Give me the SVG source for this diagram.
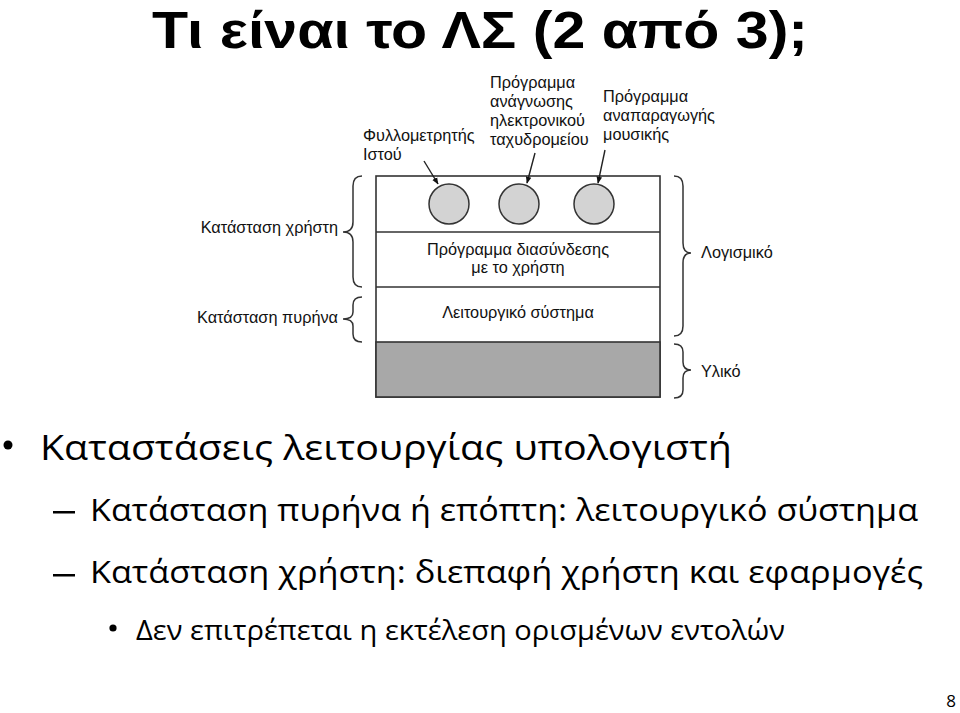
<svg xmlns="http://www.w3.org/2000/svg" width="960" height="713" viewBox="0 0 960 713">
<style>
.slide{font-family:"Open Sans","Noto Sans","DejaVu Sans",sans-serif;fill:#000}
.title{font-family:"Liberation Sans",Arial,sans-serif;font-weight:bold;fill:#000}
.lbl{font-family:"Liberation Sans",Arial,sans-serif;font-size:16.3px;fill:#111}
.box{fill:#fff;stroke:#333;stroke-width:1.6}
.cir{fill:#d3d3d3;stroke:#333;stroke-width:1.5}
.brace{fill:none;stroke:#333;stroke-width:1.5}
.conn{stroke:#222;stroke-width:1.4;fill:none}
</style>
<defs>
<marker id="ah" viewBox="0 0 10 10" refX="9" refY="5" markerWidth="7" markerHeight="7" orient="auto" markerUnits="userSpaceOnUse">
<path d="M0,1 L10,5 L0,9 Z" fill="#111"/>
</marker>
</defs>
<rect width="960" height="713" fill="#fff"/>
<text class="title" x="152" y="48" font-size="52" textLength="656" lengthAdjust="spacingAndGlyphs">Τι είναι το ΛΣ (2 από 3);</text>

<g id="os-diagram">
<g id="layers">
<rect class="box" x="376" y="176" width="284" height="221"/>
<line class="box" x1="376" y1="232" x2="660" y2="232"/>
<line class="box" x1="376" y1="287" x2="660" y2="287"/>
<rect x="376" y="342" width="284" height="55" fill="#a8a8a8" stroke="#333" stroke-width="1.6"/>
</g>
<g id="node-browser"><circle class="cir" cx="449" cy="204" r="20"/></g>
<g id="node-mail"><circle class="cir" cx="519" cy="204" r="20"/></g>
<g id="node-music"><circle class="cir" cx="594" cy="204" r="20"/></g>
<g id="node-ui"><text class="lbl" x="518" y="255" text-anchor="middle">Πρόγραμμα διασύνδεσης</text><text class="lbl" x="518" y="273" text-anchor="middle">με το χρήστη</text></g>
<g id="node-os"><text class="lbl" x="518" y="318" text-anchor="middle">Λειτουργικό σύστημα</text></g>

<g id="label-browser"><text class="lbl" x="363" y="141">Φυλλομετρητής</text><text class="lbl" x="363" y="160">Ιστού</text></g>
<g id="label-mail"><text class="lbl" x="490" y="88">Πρόγραμμα</text><text class="lbl" x="490" y="107">ανάγνωσης</text><text class="lbl" x="490" y="126">ηλεκτρονικού</text><text class="lbl" x="490" y="145">ταχυδρομείου</text></g>
<g id="label-music"><text class="lbl" x="603" y="102">Πρόγραμμα</text><text class="lbl" x="603" y="121">αναπαραγωγής</text><text class="lbl" x="603" y="140">μουσικής</text></g>

<g id="connectors">
<line class="conn" x1="424" y1="161" x2="438" y2="184" marker-end="url(#ah)"/>
<line class="conn" x1="535" y1="153" x2="527" y2="183" marker-end="url(#ah)"/>
<line class="conn" x1="605" y1="150" x2="598" y2="183" marker-end="url(#ah)"/>
</g>

<g id="brace-user">
<path class="brace" d="M362,176 Q353,176 353,186 L353,222 Q353,232 343,232 Q353,232 353,242 L353,277 Q353,287 362,287"/>
<text class="lbl" x="338" y="233" text-anchor="end">Κατάσταση χρήστη</text>
</g>
<g id="brace-kernel">
<path class="brace" d="M362,297 Q353,297 353,305 L353,312 Q353,319 343,319 Q353,319 353,326 L353,334 Q353,342 362,342"/>
<text class="lbl" x="338" y="323" text-anchor="end">Κατάσταση πυρήνα</text>
</g>
<g id="brace-software">
<path class="brace" d="M674,176 Q683,176 683,186 L683,243 Q683,253 691,253 Q683,253 683,263 L683,326 Q683,336 674,336"/>
<text class="lbl" x="701" y="258">Λογισμικό</text>
</g>
<g id="brace-hardware">
<path class="brace" d="M674,344 Q683,344 683,352 L683,362 Q683,370 691,370 Q683,370 683,378 L683,390 Q683,398 674,398"/>
<text class="lbl" x="701" y="377">Υλικό</text>
</g>
</g>

<g id="bullets">
<circle cx="8" cy="445" r="4.5" fill="#000"/>
<text class="slide" x="40" y="460" font-size="34" textLength="692" lengthAdjust="spacingAndGlyphs">Καταστάσεις λειτουργίας υπολογιστή</text>
<rect x="53" y="511" width="22" height="2.5" fill="#000"/>
<text class="slide" x="90" y="521" font-size="31" textLength="828" lengthAdjust="spacingAndGlyphs">Κατάσταση πυρήνα ή επόπτη: λειτουργικό σύστημα</text>
<rect x="53" y="574" width="22" height="2.5" fill="#000"/>
<text class="slide" x="90" y="583" font-size="31" textLength="833" lengthAdjust="spacingAndGlyphs">Κατάσταση χρήστη: διεπαφή χρήστη και εφαρμογές</text>
<circle cx="113" cy="628" r="3.6" fill="#000"/>
<text class="slide" x="136" y="640" font-size="28" textLength="649" lengthAdjust="spacingAndGlyphs">Δεν επιτρέπεται η εκτέλεση ορισμένων εντολών</text>
</g>
<text class="slide" x="956" y="707" font-size="17" text-anchor="end">8</text>
</svg>
